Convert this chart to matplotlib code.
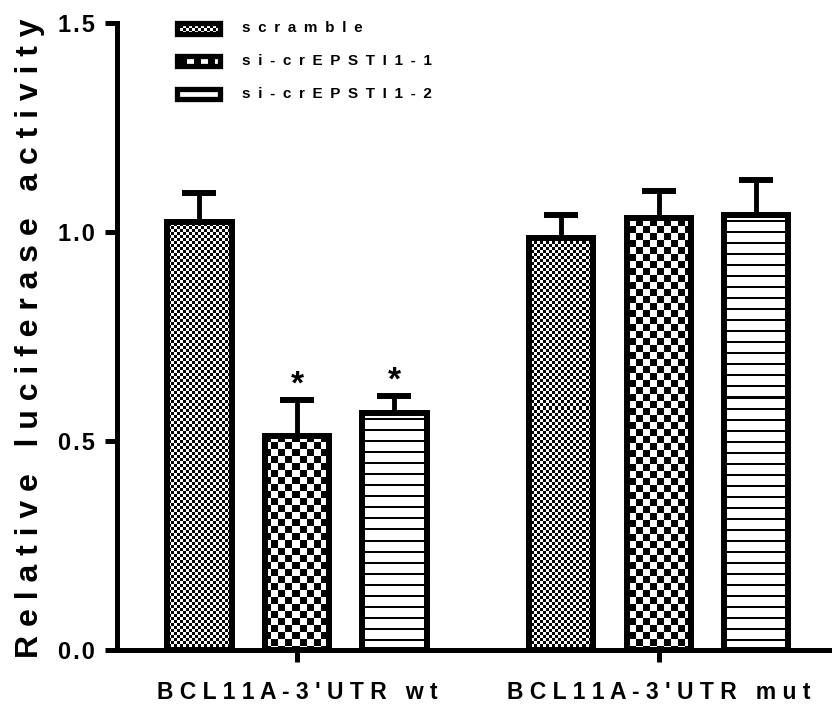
import numpy as np
import matplotlib
matplotlib.use("Agg")
import matplotlib.pyplot as plt
from matplotlib.patches import Rectangle

plt.rcParams['font.family'] = ['Liberation Sans', 'DejaVu Sans']
plt.rcParams['font.weight'] = 'bold'

# data
groups = ["BCL11A-3'UTR wt", "BCL11A-3'UTR mut"]
series = ["scramble", "si-crEPSTI1-1", "si-crEPSTI1-2"]
scramble_mean = [1.024, 0.986]
si1_mean = [0.512, 1.033]
si2_mean = [0.567, 1.041]
scramble_err = [0.069, 0.055]
si1_err = [0.086, 0.065]
si2_err = [0.041, 0.083]
si1_star = [True, False]
si2_star = [True, False]
yticks = [0.0, 0.5, 1.0, 1.5]
ylabel = "Relative luciferase activity"

means = [scramble_mean, si1_mean, si2_mean]
errs = [scramble_err, si1_err, si2_err]
stars = [[False, False], si1_star, si2_star]


def spaced(s, sep=" ", word_sep="   "):
    # letter spacing like the original
    return word_sep.join(sep.join(w) for w in s.split(" "))


W, H, DPI = 832, 704, 100
fig = plt.figure(figsize=(W / DPI, H / DPI), dpi=DPI)
ax_l, ax_r, ax_t, ax_b = 117, 832, 23, 650
ax = fig.add_axes([ax_l / W, 1 - ax_b / H, (ax_r - ax_l) / W, (ax_b - ax_t) / H])

centers = np.array([0.0, 3.71])
width = 0.66
xlim = (-1.846, 5.487)
ylim = (0, 1.5)

# fill patterns built in screen pixels of the axes
aw, ah = ax_r - ax_l, ax_b - ax_t
yy, xx = np.mgrid[0:ah, 0:aw]
patterns = [
    ((yy // 3 + xx // 3) % 2).astype(float),
    ((yy // 7 + xx // 7) % 2).astype(float),
    np.where(yy % 11 < 2, 0.0, 1.0),
]


def fill(patch, pat):
    im = ax.imshow(pat, cmap="gray", vmin=0, vmax=1, extent=(*xlim, *ylim),
                   aspect="auto", interpolation="nearest", zorder=2)
    im.set_clip_path(patch)


for i, name in enumerate(series):
    x = centers + (i - 1)
    bars = ax.bar(x, means[i], width, facecolor="none", edgecolor="black",
                  linewidth=4.3, zorder=3)
    for b in bars:
        fill(b, patterns[i])
    ax.errorbar(x, means[i], yerr=[np.zeros(len(x)), errs[i]], fmt="none",
                ecolor="black", elinewidth=3.5, capsize=12, capthick=4.3, zorder=1)
    for xi, m, e, s in zip(x, means[i], errs[i], stars[i]):
        if s:
            ax.text(xi, m + e + 0.015, "*", ha="center", va="baseline", fontsize=24)

ax.set_xlim(*xlim)
ax.set_ylim(*ylim)


# legend drawn by hand
def to_axes(px, py):
    return (px - ax_l) / aw, (ax_b - py) / ah


for i, name in enumerate(series):
    cy = 28.5 + 32.5 * i
    x0, y0 = to_axes(177, cy + 5)
    x1, y1 = to_axes(220, cy - 5)
    r = Rectangle((x0, y0), x1 - x0, y1 - y0, transform=ax.transAxes,
                  facecolor="none", edgecolor="black", linewidth=3.8,
                  clip_on=False, zorder=3)
    ax.add_patch(r)
    fill(r, patterns[i])
    tx, ty = to_axes(242, cy)
    ax.text(tx, ty, spaced(name, sep="\u2002"), transform=ax.transAxes,
            ha="left", va="center", fontsize=11)

for sp in ["top", "right"]:
    ax.spines[sp].set_visible(False)
for sp in ["left", "bottom"]:
    ax.spines[sp].set_linewidth(3.6)

ax.set_yticks(yticks, labels=[spaced(f"{t:.1f}", sep="\u200a") for t in yticks])
ax.set_xticks(centers, labels=[spaced(g) for g in groups])
ax.tick_params(axis="y", direction="out", length=8.6, width=3.6, pad=7, labelsize=17)
ax.tick_params(axis="x", direction="out", length=8.6, width=3.6, pad=14, labelsize=16.5)

fig.text(30 / W, 1 - 338 / H, spaced(ylabel),
         rotation=90, ha="center", va="center", fontsize=23)

fig.savefig("out.png", dpi=DPI)
